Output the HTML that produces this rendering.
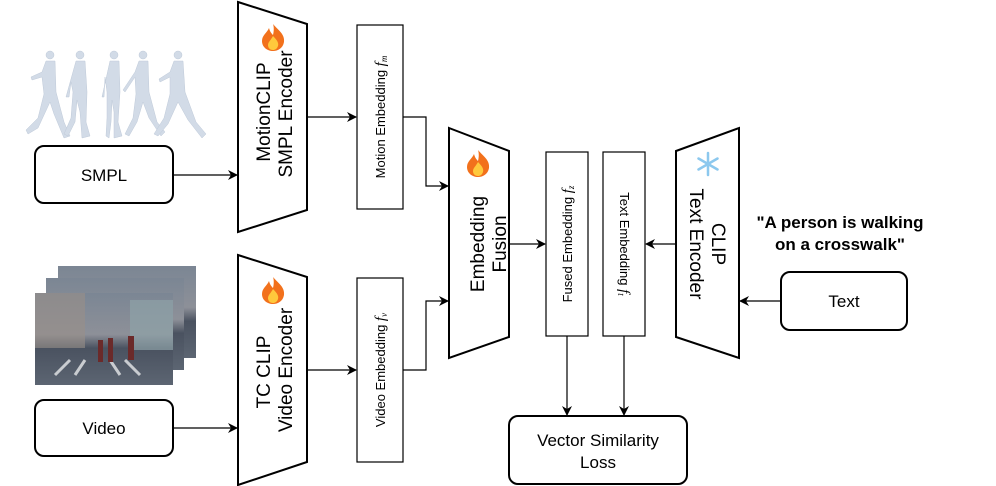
<!DOCTYPE html>
<html><head><meta charset="utf-8"><style>body{margin:0;background:#fff}svg{display:block}</style></head><body>
<svg width="996" height="486" viewBox="0 0 996 486" xmlns="http://www.w3.org/2000/svg" font-family="Liberation Sans, sans-serif">
<defs>
<marker id="a" markerWidth="10" markerHeight="10" refX="9" refY="5" orient="auto" markerUnits="userSpaceOnUse"><path d="M0,0 L10,5 L0,10 L3,5 z" fill="#000"/></marker>
<g id="flame"><path d="M0,-13 C5,-7 12,-3 11,5 C10,11 5,14 0,14 C-6,14 -11,10 -11,4 C-11,-2 -6,-4 -4,-9 C-3,-5 -1,-3 0,-2 C1,-6 1,-10 0,-13z" fill="#f2711c"/><path d="M0,-1 C4,3 6,6 5,9 C4,12 2,13 0,13 C-3,13 -5,11 -5,8 C-5,5 -2,3 0,-1z" fill="#ffc93c"/></g>
<linearGradient id="v" x1="0" y1="0" x2="0" y2="1"><stop offset="0" stop-color="#7b8694"/><stop offset="0.45" stop-color="#8d9098"/><stop offset="0.6" stop-color="#4a5260"/><stop offset="1" stop-color="#5c6572"/></linearGradient>
</defs>
<!-- walkers -->
<g fill="#d2dbe7" stroke="#bfcad9" stroke-width="0.5">
<g transform="translate(50,52)"><circle cx="0" cy="3" r="4"/><path d="M-4,9 L5,9 L6,40 L14,70 L20,84 L14,86 L4,62 L0,50 L-12,76 L-22,82 L-24,78 L-12,66 L-6,42 L-8,25 L-18,28 L-19,25 L-8,20 z"/></g>
<g transform="translate(80,52)"><circle cx="0" cy="3" r="4"/><path d="M-4,9 L5,9 L7,40 L6,70 L10,84 L2,86 L0,60 L-3,48 L-5,70 L-12,84 L-16,82 L-9,66 L-7,40 L-9,30 L-11,45 L-14,45 z"/></g>
<g transform="translate(114,52)"><circle cx="0" cy="3" r="4"/><path d="M-4,9 L5,9 L6,40 L4,70 L8,84 L0,86 L0,60 L-2,48 L-3,70 L-5,86 L-8,84 L-7,66 L-7,40 L-9,25 L-10,45 L-12,45 z"/></g>
<g transform="translate(143,52)"><circle cx="0" cy="3" r="4"/><path d="M-4,9 L5,9 L6,40 L14,70 L22,80 L18,84 L6,66 L0,50 L-6,70 L-14,84 L-18,82 L-10,66 L-7,42 L-8,25 L-18,40 L-20,38 L-8,20 z"/></g>
<g transform="translate(178,52)"><circle cx="0" cy="3" r="4"/><path d="M-4,9 L5,9 L7,40 L18,70 L28,82 L24,86 L10,68 L0,50 L-10,72 L-20,84 L-24,82 L-14,66 L-8,42 L-8,25 L-18,30 L-19,27 L-8,20 z"/></g>
</g>
<!-- video frames -->
<rect x="58" y="266" width="138" height="92" fill="url(#v)"/>
<rect x="46" y="278" width="138" height="92" fill="url(#v)"/>
<rect x="35" y="293" width="138" height="92" fill="url(#v)"/>
<rect x="35" y="293" width="50" height="55" fill="#9a8f88" opacity="0.6"/>
<rect x="130" y="300" width="43" height="50" fill="#8fa3a8" opacity="0.7"/>
<g stroke="#c9ccd0" stroke-width="3"><line x1="55" y1="375" x2="70" y2="360"/><line x1="75" y1="375" x2="85" y2="360"/><line x1="120" y1="375" x2="110" y2="360"/><line x1="140" y1="375" x2="125" y2="360"/></g>
<g fill="#6b2a2a"><rect x="98" y="340" width="5" height="22"/><rect x="108" y="338" width="5" height="24"/><rect x="128" y="336" width="6" height="24"/></g>
<g fill="none" stroke="#000" stroke-width="2">
<rect x="35" y="146" width="138" height="57" rx="9"/>
<rect x="35" y="400" width="138" height="56" rx="9"/>
<polygon points="238,2 307,24 307,210 238,232"/>
<polygon points="238,255 307,277 307,462 238,485"/>
<polygon points="449,128 509,151 509,337 449,358"/>
<polygon points="676,151 739,128 739,358 676,337"/>
<rect x="781" y="272" width="126" height="58" rx="9"/>
<rect x="509" y="416" width="178" height="68" rx="9"/>
</g>
<g fill="none" stroke="#000" stroke-width="1.2">
<rect x="357" y="25" width="46" height="184"/>
<rect x="357" y="278" width="46" height="184"/>
<rect x="546" y="152" width="42" height="184"/>
<rect x="603" y="152" width="42" height="184"/>
</g>
<g stroke="#000" stroke-width="1.2" fill="none" marker-end="url(#a)">
<line x1="173" y1="175" x2="237" y2="175"/>
<line x1="173" y1="428" x2="237" y2="428"/>
<line x1="307" y1="117" x2="356" y2="117"/>
<line x1="307" y1="370" x2="356" y2="370"/>
<polyline points="403,117 426,117 426,186 448,186"/>
<polyline points="403,370 426,370 426,301 448,301"/>
<line x1="509" y1="244" x2="545" y2="244"/>
<line x1="676" y1="244" x2="646" y2="244"/>
<line x1="781" y1="301" x2="740" y2="301"/>
<line x1="567" y1="336" x2="567" y2="415"/>
<line x1="624" y1="336" x2="624" y2="415"/>
</g>
<use href="#flame" transform="translate(273,37)"/>
<use href="#flame" transform="translate(273,290)"/>
<use href="#flame" transform="translate(478,163)"/>
<g stroke="#8cc8ee" stroke-width="2.5" stroke-linecap="round" transform="translate(708,164)"><line x1="0" y1="-11" x2="0" y2="11"/><line x1="-9.5" y1="-5.5" x2="9.5" y2="5.5"/><line x1="-9.5" y1="5.5" x2="9.5" y2="-5.5"/></g>
<g font-size="17" text-anchor="middle" fill="#000">
<text x="104" y="181">SMPL</text>
<text x="104" y="434">Video</text>
<text x="844" y="307">Text</text>
<text x="598" y="446">Vector Similarity</text>
<text x="598" y="468">Loss</text>
<g font-size="19">
<text transform="translate(270,112) rotate(-90)">MotionCLIP</text>
<text transform="translate(292,114) rotate(-90)">SMPL Encoder</text>
<text transform="translate(270,372) rotate(-90)">TC CLIP</text>
<text transform="translate(292,370) rotate(-90)">Video Encoder</text>
<text transform="translate(484,244) rotate(-90)">Embedding</text>
<text transform="translate(506,244) rotate(-90)">Fusion</text>
<text transform="translate(712,244) rotate(90)">CLIP</text>
<text transform="translate(690,244) rotate(90)">Text Encoder</text>
</g>
<text x="840" y="228" font-weight="bold">"A person is walking</text>
<text x="840" y="250" font-weight="bold">on a crosswalk"</text>
</g>
<g font-size="13" text-anchor="middle" fill="#000">
<text transform="translate(385,117) rotate(-90)">Motion Embedding <tspan font-family="Liberation Serif, serif" font-style="italic" font-size="15">f<tspan font-size="9" dy="2">m</tspan></tspan></text>
<text transform="translate(385,370) rotate(-90)">Video Embedding <tspan font-family="Liberation Serif, serif" font-style="italic" font-size="15">f<tspan font-size="9" dy="2">v</tspan></tspan></text>
<text transform="translate(572,244) rotate(-90)">Fused Embedding <tspan font-family="Liberation Serif, serif" font-style="italic" font-size="15">f<tspan font-size="9" dy="2">z</tspan></tspan></text>
<text transform="translate(620,244) rotate(90)">Text Embedding <tspan font-family="Liberation Serif, serif" font-style="italic" font-size="15">f<tspan font-size="9" dy="2">t</tspan></tspan></text>
</g>
</svg>
</body></html>
